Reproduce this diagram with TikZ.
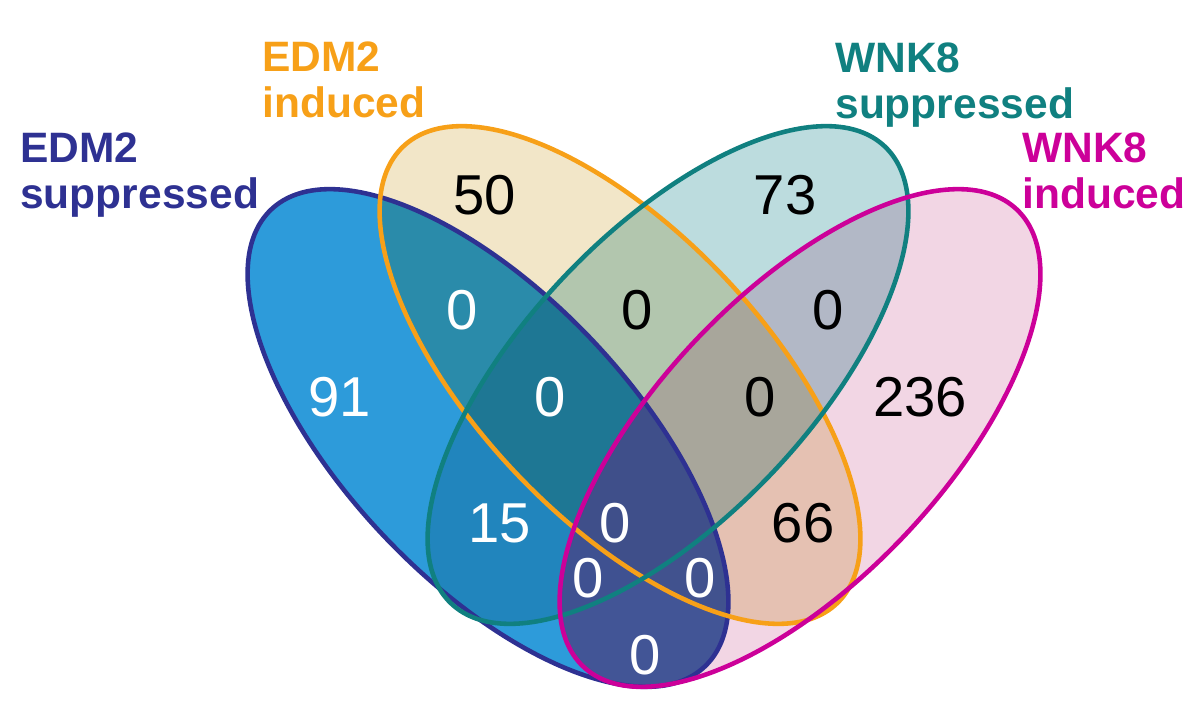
\documentclass[tikz,border=0pt]{standalone}
\usepackage{fontspec}
\setmainfont{Liberation Sans}
\definecolor{supblue}{RGB}{46,49,146}
\definecolor{indorange}{RGB}{247,160,24}
\definecolor{supteal}{RGB}{16,128,128}
\definecolor{indpink}{RGB}{204,0,153}
\definecolor{bluefill}{RGB}{45,155,218}
\definecolor{orangefill}{RGB}{242,230,200}
\definecolor{tealfill}{RGB}{188,220,222}
\definecolor{pinkfill}{RGB}{242,214,228}
\definecolor{navyfill}{RGB}{72,74,140}
\begin{document}
\begin{tikzpicture}[x=0.02cm,y=-0.02cm,
				ring/.style={line width=2.6pt},
				setlabel/.style={anchor=base west,align=left,inner sep=0pt,
					font=\fontsize{24.2}{25.8}\selectfont\bfseries},
				numb/.style={inner sep=0pt,font=\fontsize{32}{32}\selectfont},
				numw/.style={numb,text=white}]
\useasboundingbox (0,0) rectangle (1200,706);
% fills
\begin{scope}[blend group=multiply]
	\fill[bluefill,shift={(488,438)},rotate=-46.5] (0,0) ellipse (315 and 143);
	\fill[orangefill,shift={(620,375)},rotate=-46.5] (0,0) ellipse (315 and 143);
	\fill[tealfill,shift={(668,375)},rotate=46.5] (0,0) ellipse (315 and 143);
	\fill[pinkfill,shift={(800,438)},rotate=46.5] (0,0) ellipse (315 and 143);
\end{scope}
\begin{scope}
	\clip[shift={(488,438)},rotate=-46.5] (0,0) ellipse (315 and 143);
	\fill[navyfill,opacity=0.8,shift={(800,438)},rotate=46.5] (0,0) ellipse (315 and 143);
\end{scope}
% outlines
\draw[ring,supblue,shift={(488,438)},rotate=-46.5] (0,0) ellipse (315 and 143);
\draw[ring,indorange,shift={(620,375)},rotate=-46.5] (0,0) ellipse (315 and 143);
\draw[ring,supteal,shift={(668,375)},rotate=46.5] (0,0) ellipse (315 and 143);
\draw[ring,indpink,shift={(800,438)},rotate=46.5] (0,0) ellipse (315 and 143);
% set names
\node[setlabel,text=supblue] (edmsup) at (20,208) {EDM2\\suppressed};
\node[setlabel,text=indorange] (edmind) at (262,117) {EDM2\\induced};
\node[setlabel,text=supteal] (wnksup) at (835,118) {WNK8\\suppressed};
\node[setlabel,text=indpink] (wnkind) at (1022,208) {WNK8\\induced};
% counts
\node[numb] (n50) at (485,195) {50};
\node[numb] (n73) at (785,195) {73};
\node[numw] (nbo) at (462,310) {0};
\node[numb] (not) at (637,310) {0};
\node[numb] (ntp) at (828,310) {0};
\node[numw] (n91) at (340,397) {91};
\node[numw] (nbot) at (550,397) {0};
\node[numb] (notp) at (760,397) {0};
\node[numb] (n236) at (920,397) {236};
\node[numw] (n15) at (500,523) {15};
\node[numw] (nall) at (615,523) {0};
\node[numb] (n66) at (803,523) {66};
\node[numw] (nbtp) at (588,578) {0};
\node[numw] (nbop) at (700,578) {0};
\node[numw] (nbp) at (645,655) {0};
\end{tikzpicture}
\end{document}
